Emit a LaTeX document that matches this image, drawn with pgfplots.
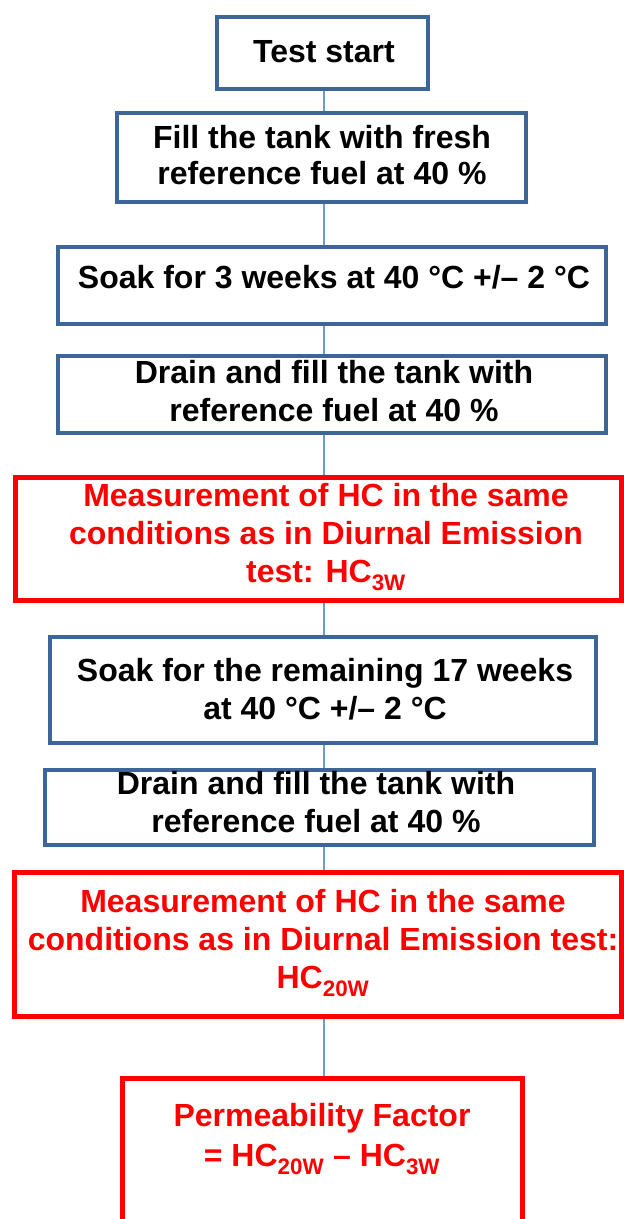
\documentclass[border=0pt]{standalone}
\usepackage{pgfplots}
\pgfplotsset{compat=1.18}
\usepackage{fontspec}
\setmainfont{Liberation Sans}
\definecolor{boxblue}{HTML}{3D6596}
\definecolor{connblue}{HTML}{6E9BD1}
\definecolor{flowred}{HTML}{FF0000}
\tikzset{
  bluebox/.style={draw=boxblue, line width=4.5pt, fill=white},
  redbox/.style={draw=flowred, line width=5pt, fill=white},
  txt/.style={align=center, font=\fontsize{32}{38}\selectfont\bfseries, inner sep=0pt},
}

\begin{document}
\begin{tikzpicture}
\begin{axis}[
  width=624pt, height=1219pt, scale only axis,
  hide axis,
  xmin=0, xmax=624, ymin=0, ymax=1219,
  y dir=reverse,
  clip=true,
  every axis plot/.append style={mark=none, line join=miter},
]
% connector down the middle
\addplot[connblue, line width=1.6pt] coordinates {(324,89) (324,1078)};

% boxes (second corner repeated so every corner gets a proper join)
\addplot[bluebox] coordinates {(217,17) (428,17) (428,89) (217,89) (217,17) (428,17)};
\addplot[bluebox] coordinates {(117,113) (526,113) (526,202) (117,202) (117,113) (526,113)};
\addplot[bluebox] coordinates {(58,247) (606,247) (606,324) (58,324) (58,247) (606,247)};
\addplot[bluebox] coordinates {(58,356) (606,356) (606,433) (58,433) (58,356) (606,356)};
\addplot[redbox] coordinates {(15,477) (621,477) (621,600) (15,600) (15,477) (621,477)};
\addplot[bluebox] coordinates {(50,637) (596,637) (596,743) (50,743) (50,637) (596,637)};
\addplot[bluebox] coordinates {(45,770) (594,770) (594,845) (45,845) (45,770) (594,770)};
\addplot[redbox] coordinates {(14,872) (621,872) (621,1016) (14,1016) (14,872) (621,872)};
\addplot[redbox] coordinates {(122,1078) (522,1078) (522,1250) (122,1250) (122,1078) (522,1078)};

% texts
\node[txt] at (axis cs:324,52) {Test start};
\node[txt, font=\fontsize{32}{36}\selectfont\bfseries] at (axis cs:322,155) {Fill the tank with fresh\\reference fuel at 40 \%};
\node[txt] at (axis cs:334,277) {Soak for 3 weeks at 40 °C +/– 2 °C};
\node[txt] at (axis cs:334,391) {Drain and fill the tank with\\reference fuel at 40 \%};
\node[txt, text=flowred] at (axis cs:326,537) {Measurement of HC in the same\\conditions as in Diurnal Emission\\test: HC\textsubscript{3W}};
\node[txt] at (axis cs:325,689) {Soak for the remaining 17 weeks\\at 40 °C +/– 2 °C};
\node[txt] at (axis cs:316,802) {Drain and fill the tank with\\reference fuel at 40 \%};
\node[txt, text=flowred] at (axis cs:323,943) {Measurement of HC in the same\\conditions as in Diurnal Emission test:\\HC\textsubscript{20W}};
\node[txt, text=flowred, font=\fontsize{32}{40}\selectfont\bfseries] at (axis cs:322,1139) {Permeability Factor\\= HC\textsubscript{20W} – HC\textsubscript{3W}};
\end{axis}
\pgfresetboundingbox
\path (current axis.south west) rectangle (current axis.north east);
\end{tikzpicture}
\end{document}
